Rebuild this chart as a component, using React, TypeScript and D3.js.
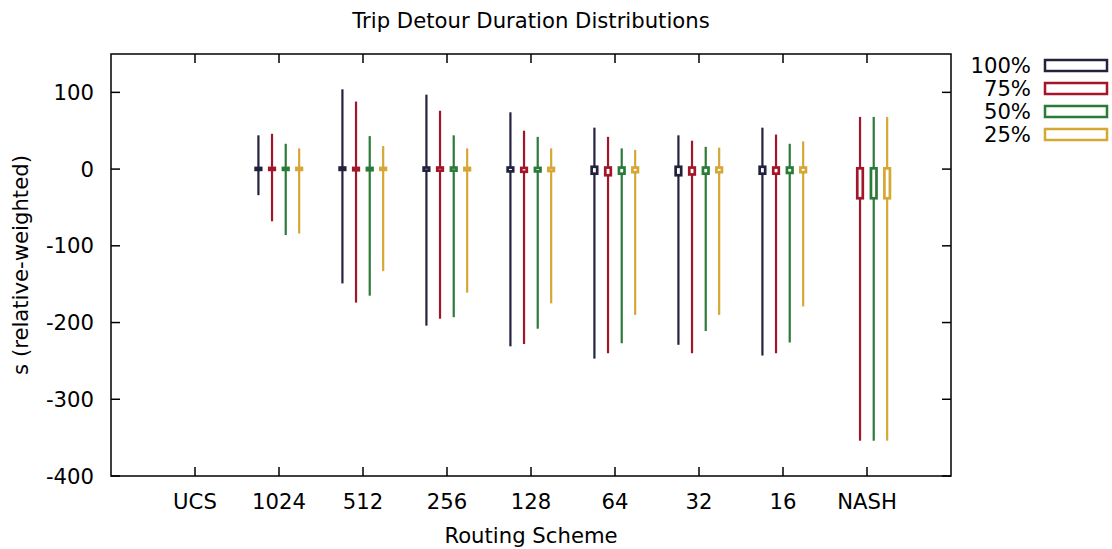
import React from "react";
import * as d3 from "d3";

// Routing schemes along the x axis
const categories = ["UCS", "1024", "512", "256", "128", "64", "32", "16", "NASH"];
// Share of equipped vehicles, one candlestick series each
const seriesNames = ["100%", "75%", "50%", "25%"];
const seriesColors = ["#22223e", "#a3162a", "#2a7a38", "#d5a734"];

// Per series: whisker low, box low, box high, whisker high (null = no data)
type Row = [number, number, number, number] | null;

const s100: Row[] = [
  null,
  [-34, -1, 1.5, 44],
  [-149, -1, 2, 104],
  [-204, -2, 2, 97],
  [-231, -3, 2, 74],
  [-247, -6, 3, 54],
  [-229, -8, 3, 44],
  [-243, -6, 3, 54],
  null,
];
const s75: Row[] = [
  null,
  [-68, -1, 1.5, 46],
  [-174, -1.5, 1.5, 88],
  [-195, -2, 2, 76],
  [-228, -3.5, 1.5, 50],
  [-240, -8, 2, 42],
  [-240, -7, 2, 37],
  [-240, -6, 2, 45],
  [-354, -38, 1, 68],
];
const s50: Row[] = [
  null,
  [-86, -1, 1.5, 33],
  [-165, -1.5, 1.5, 43],
  [-193, -2, 2, 44],
  [-208, -3, 1.5, 42],
  [-227, -6, 2, 27],
  [-211, -6, 2, 29],
  [-226, -5, 2, 33],
  [-354, -38, 1, 68],
];
const s25: Row[] = [
  null,
  [-84, -1, 1.5, 27],
  [-133, -1, 1.5, 30],
  [-161, -1.5, 1.5, 27],
  [-175, -2.5, 1.5, 27],
  [-190, -4, 2, 25],
  [-190, -4, 2, 28],
  [-179, -4, 2, 36],
  [-354, -38, 1, 68],
];
const seriesData = [s100, s75, s50, s25];

const yTicks = [100, 0, -100, -200, -300, -400];
const seriesOffsets = [-0.245, -0.083, 0.08, 0.24];

const W = 1112;
const H = 549;
const M = { left: 111, right: 951, top: 54, bottom: 476 };
const FONT = "'DejaVu Sans', sans-serif";
const FS = 21.2;

export default function App() {
  const x = d3.scaleLinear().domain([0, categories.length + 1]).range([M.left, M.right]);
  const y = d3.scaleLinear().domain([-400, 150]).range([M.bottom, M.top]);
  const boxW = x(0.066) - x(0);
  const tick = 9;

  return (
    <svg
      width={W}
      height={H}
      style={{ position: "absolute", left: 0, top: 0, background: "#fff" }}
      fontFamily={FONT}
    >
      <rect x={0} y={0} width={W} height={H} fill="#fff" />

      {/* candlesticks */}
      {seriesData.map((rows, si) => (
        <g key={seriesNames[si]} stroke={seriesColors[si]} fill="#fff">
          {rows.map((r, ci) => {
            if (!r) return null;
            const cx = x(ci + 1 + seriesOffsets[si]);
            const [lo, b0, b1, hi] = r;
            return (
              <g key={ci}>
                <line x1={cx} x2={cx} y1={y(lo)} y2={y(b0)} strokeWidth={2.2} />
                <line x1={cx} x2={cx} y1={y(b1)} y2={y(hi)} strokeWidth={2.2} />
                <rect
                  x={cx - boxW / 2}
                  y={y(b1)}
                  width={boxW}
                  height={Math.max(0, y(b0) - y(b1))}
                  strokeWidth={2.7}
                />
              </g>
            );
          })}
        </g>
      ))}

      {/* frame */}
      <rect
        x={M.left}
        y={M.top}
        width={M.right - M.left}
        height={M.bottom - M.top}
        fill="none"
        stroke="#000"
        strokeWidth={1.5}
      />

      {/* y axis */}
      {yTicks.map((t) => (
        <g key={t}>
          <line x1={M.left} x2={M.left + tick} y1={y(t)} y2={y(t)} stroke="#000" strokeWidth={1.5} />
          <line x1={M.right} x2={M.right - tick} y1={y(t)} y2={y(t)} stroke="#000" strokeWidth={1.5} />
          <text x={94} y={y(t)} dy="0.36em" textAnchor="end" fontSize={FS} fill="#000">
            {t}
          </text>
        </g>
      ))}

      {/* x axis */}
      {categories.map((c, i) => (
        <g key={c}>
          <line
            x1={x(i + 1)}
            x2={x(i + 1)}
            y1={M.bottom}
            y2={M.bottom - tick}
            stroke="#000"
            strokeWidth={1.5}
          />
          <line
            x1={x(i + 1)}
            x2={x(i + 1)}
            y1={M.top}
            y2={M.top + tick}
            stroke="#000"
            strokeWidth={1.5}
          />
          <text x={x(i + 1)} y={501} dy="0.36em" textAnchor="middle" fontSize={FS} fill="#000">
            {c}
          </text>
        </g>
      ))}

      {/* titles */}
      <text x={531} y={20} dy="0.36em" textAnchor="middle" fontSize={FS} fill="#000">
        Trip Detour Duration Distributions
      </text>
      <text x={531} y={535} dy="0.36em" textAnchor="middle" fontSize={FS} fill="#000">
        Routing Scheme
      </text>
      <text
        transform={`translate(20,265) rotate(-90)`}
        dy="0.36em"
        textAnchor="middle"
        fontSize={FS}
        fill="#000"
      >
        s (relative-weighted)
      </text>

      {/* legend */}
      {seriesNames.map((n, i) => {
        const cy = 65.5 + i * 23;
        return (
          <g key={n}>
            <text x={1031} y={cy} dy="0.36em" textAnchor="end" fontSize={FS} fill="#000">
              {n}
            </text>
            <rect
              x={1045}
              y={cy - 5.5}
              width={62}
              height={11}
              fill="#fff"
              stroke={seriesColors[i]}
              strokeWidth={2.5}
            />
          </g>
        );
      })}
    </svg>
  );
}
